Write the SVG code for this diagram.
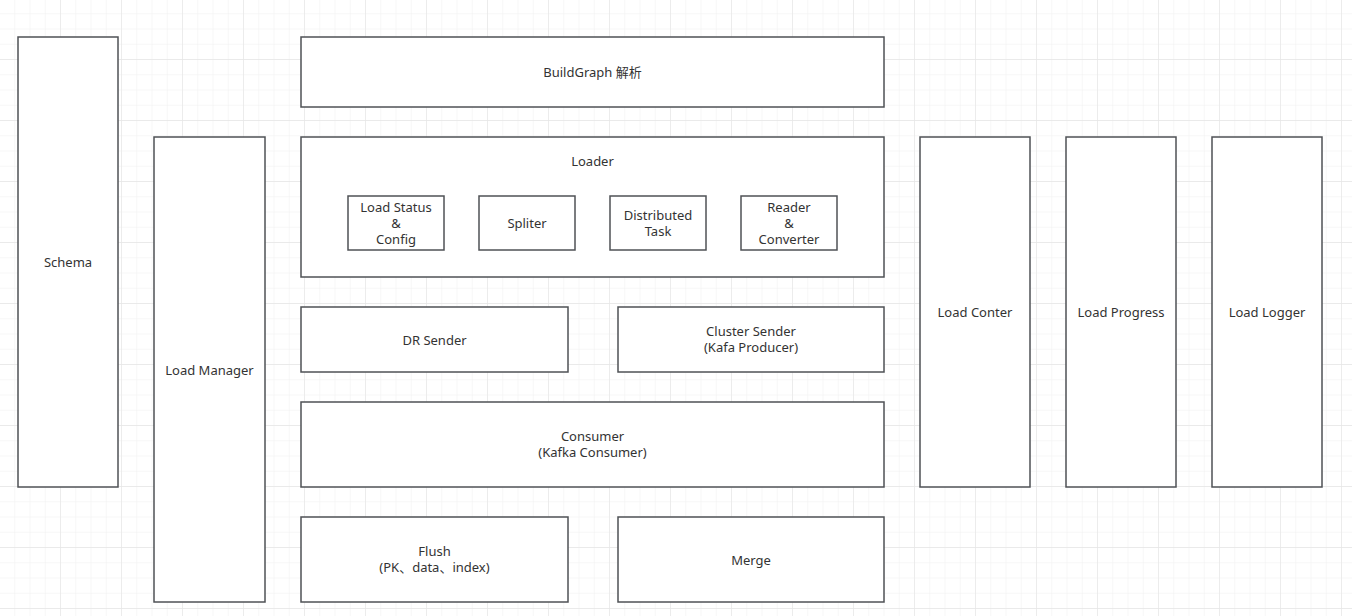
<svg xmlns="http://www.w3.org/2000/svg" width="1352" height="616" viewBox="0 0 1352 616">
<defs>
<pattern id="minor" x="0" y="-1" width="15.25" height="15.25" patternUnits="userSpaceOnUse">
<path d="M15.25 0V15.25M0 15.25H15.25" fill="none" stroke="#efefef" stroke-width="1"/>
</pattern>
<pattern id="major" x="0" y="-1" width="61" height="61" patternUnits="userSpaceOnUse">
<path d="M61 0V61M0 61H61" fill="none" stroke="#e6e6e6" stroke-width="1.3"/>
</pattern>
</defs>
<style>
.box{fill:#fff;stroke:#4f5256;stroke-width:1.5}
text{font-family:"Noto Sans","Noto Sans CJK SC",sans-serif;font-size:13px;fill:#333;text-anchor:middle;dominant-baseline:central}
</style>
<rect width="1352" height="616" fill="#fff"/>
<rect width="1352" height="616" fill="url(#minor)"/>
<rect width="1352" height="616" fill="url(#major)"/>
<g id="connectors"></g>
<g id="schema"><rect class="box" x="18" y="37" width="100" height="450"/><text x="68" y="262">Schema</text></g>
<g id="load-manager"><rect class="box" x="154" y="137" width="111" height="465"/><text x="209.5" y="370">Load Manager</text></g>
<g id="buildgraph"><rect class="box" x="301" y="37" width="583" height="70"/><text x="592.5" y="72">BuildGraph 解析</text></g>
<g id="loader"><rect class="box" x="301" y="137" width="583" height="140"/><text x="592.5" y="161">Loader</text></g>
<g id="load-status"><rect class="box" x="348" y="196" width="96" height="54"/><text x="396" y="207">Load Status</text><text x="396" y="223">&amp;</text><text x="396" y="239">Config</text></g>
<g id="spliter"><rect class="box" x="479" y="196" width="96" height="54"/><text x="527" y="223">Spliter</text></g>
<g id="distributed-task"><rect class="box" x="610" y="196" width="96" height="54"/><text x="658" y="215">Distributed</text><text x="658" y="231">Task</text></g>
<g id="reader-converter"><rect class="box" x="741" y="196" width="96" height="54"/><text x="789" y="207">Reader</text><text x="789" y="223">&amp;</text><text x="789" y="239">Converter</text></g>
<g id="dr-sender"><rect class="box" x="301" y="307" width="267" height="65"/><text x="434.5" y="340">DR Sender</text></g>
<g id="cluster-sender"><rect class="box" x="618" y="307" width="266" height="65"/><text x="751" y="331">Cluster Sender</text><text x="751" y="347">(Kafa Producer)</text></g>
<g id="consumer"><rect class="box" x="301" y="402" width="583" height="85"/><text x="592.5" y="436">Consumer</text><text x="592.5" y="452">(Kafka Consumer)</text></g>
<g id="flush"><rect class="box" x="301" y="517" width="267" height="85"/><text x="434.5" y="551">Flush</text><text x="434.5" y="567">(PK、data、index)</text></g>
<g id="merge"><rect class="box" x="618" y="517" width="266" height="85"/><text x="751" y="560">Merge</text></g>
<g id="load-conter"><rect class="box" x="920" y="137" width="110" height="350"/><text x="975" y="312">Load Conter</text></g>
<g id="load-progress"><rect class="box" x="1066" y="137" width="110" height="350"/><text x="1121" y="312">Load Progress</text></g>
<g id="load-logger"><rect class="box" x="1212" y="137" width="110" height="350"/><text x="1267" y="312">Load Logger</text></g>
</svg>
